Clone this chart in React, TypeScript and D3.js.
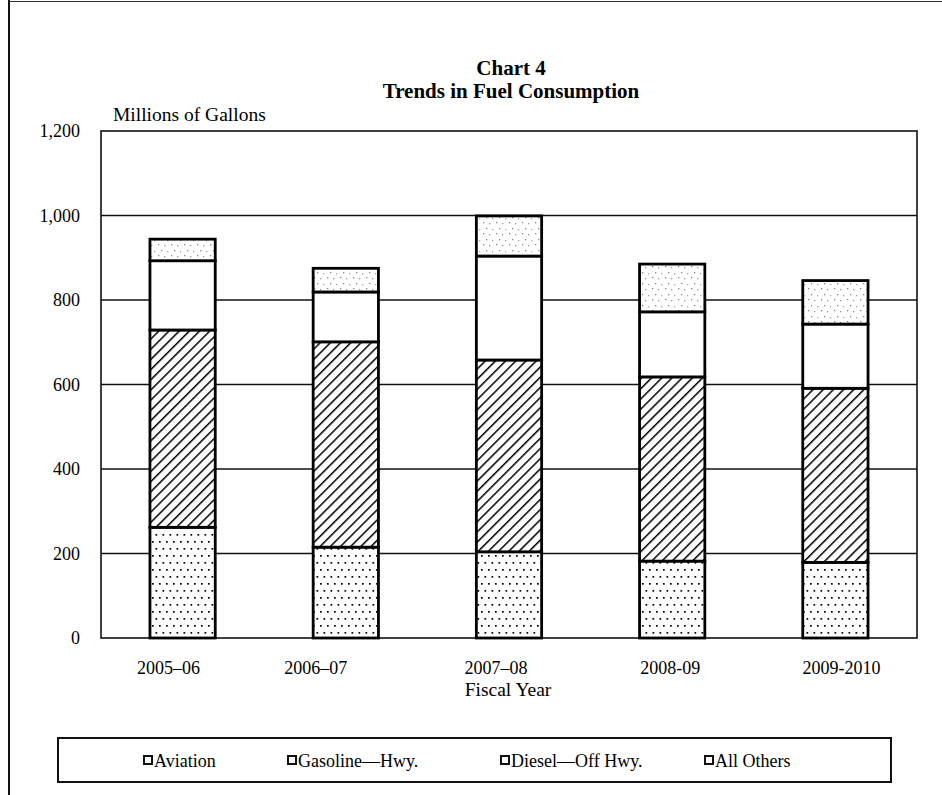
import React from "react";
import * as d3 from "d3";

// Fiscal years on the x axis
const years = ["2005–06", "2006–07", "2007–08", "2008-09", "2009-2010"];

// Millions of gallons per fuel type, stacked bottom to top in this order
const aviation = [262, 215, 204, 182, 179];
const gasolineHwy = [467, 486, 454, 436, 412];
const dieselOffHwy = [164, 118, 246, 154, 152];
const allOthers = [51, 56, 95, 113, 103];

const seriesNames = ["Aviation", "Gasoline—Hwy.", "Diesel—Off Hwy.", "All Others"];
const seriesValues = [aviation, gasolineHwy, dieselOffHwy, allOthers];
const yTicks = [0, 200, 400, 600, 800, 1000, 1200];

// Layout
const W = 942;
const H = 795;
const plot = { left: 101, right: 917, top: 131, bottom: 638 };
const FONT = "'Liberation Serif', 'Times New Roman', serif";
const fills = ["url(#dotsAviation)", "url(#hatchGasoline)", "#ffffff", "url(#dotsOthers)"];
// horizontal nudge of each year label relative to its bar centre
const labelNudge = [-14, -30, -13, -2, 6];
const legendX = [143, 287, 500, 704];

export default function App() {
  const x = d3
    .scaleBand<string>()
    .domain(years)
    .range([plot.left, plot.right])
    .paddingInner(0.6)
    .paddingOuter(0.3);
  const y = d3.scaleLinear().domain([0, 1200]).range([plot.bottom, plot.top]);

  const table = years.map((yr, i) => {
    const row: Record<string, number | string> = { year: yr };
    seriesNames.forEach((s, k) => (row[s] = seriesValues[k][i]));
    return row;
  });
  const stacked = d3.stack<any>().keys(seriesNames)(table as any);

  return (
    <svg
      width={W}
      height={H}
      style={{ position: "absolute", left: 0, top: 0, background: "#fff" }}
      fontFamily={FONT}
    >
      <defs>
        <pattern id="dotsAviation" width="7" height="14" patternUnits="userSpaceOnUse">
          <rect width="7" height="14" fill="#fff" />
          <rect x="1.5" y="2" width="1.7" height="1.7" fill="#000" />
          <rect x="5" y="9" width="1.7" height="1.7" fill="#000" />
        </pattern>
        <pattern
          id="hatchGasoline"
          width="7.2"
          height="7.2"
          patternUnits="userSpaceOnUse"
          patternTransform="rotate(45)"
        >
          <rect width="7.2" height="7.2" fill="#fff" />
          <line x1="0" y1="0" x2="0" y2="7.2" stroke="#000" strokeWidth="3" />
        </pattern>
        <pattern id="dotsOthers" width="13" height="11" patternUnits="userSpaceOnUse">
          <rect width="13" height="11" fill="#fff" />
          <rect x="2" y="2" width="1.3" height="1.3" fill="#888" />
          <rect x="8" y="3" width="1.3" height="1.3" fill="#999" />
          <rect x="5" y="8" width="1.3" height="1.3" fill="#888" />
          <rect x="11" y="9" width="1.3" height="1.3" fill="#aaa" />
        </pattern>
      </defs>

      {/* page frame */}
      <line x1={9} y1={0} x2={9} y2={H} stroke="#111" strokeWidth={2} />
      <line x1={9} y1={1.5} x2={W} y2={1.5} stroke="#333" strokeWidth={1} />

      {/* titles */}
      <text x={511} y={75} textAnchor="middle" fontSize={21} fontWeight="bold">
        Chart 4
      </text>
      <text x={511} y={98} textAnchor="middle" fontSize={21} fontWeight="bold">
        Trends in Fuel Consumption
      </text>
      <text x={113} y={121} fontSize={19.5}>
        Millions of Gallons
      </text>

      {/* gridlines and y labels */}
      {yTicks.map((t) => (
        <g key={t}>
          {t > 0 && t < 1200 && (
            <line
              x1={plot.left}
              x2={plot.right}
              y1={y(t)}
              y2={y(t)}
              stroke="#111"
              strokeWidth={1.3}
            />
          )}
          <text x={80} y={y(t) + 6} textAnchor="end" fontSize={18}>
            {d3.format(",")(t)}
          </text>
        </g>
      ))}

      {/* plot border */}
      <rect
        x={plot.left}
        y={plot.top}
        width={plot.right - plot.left}
        height={plot.bottom - plot.top}
        fill="none"
        stroke="#111"
        strokeWidth={1.6}
      />

      {/* stacked bars */}
      {stacked.map((layer, k) =>
        layer.map((d, i) => (
          <rect
            key={`${k}-${i}`}
            x={x(years[i])!}
            y={y(d[1])}
            width={x.bandwidth()}
            height={y(d[0]) - y(d[1])}
            fill={fills[k]}
            stroke="#000"
            strokeWidth={2.8}
          />
        ))
      )}

      {/* x labels */}
      {years.map((yr, i) => (
        <text
          key={yr}
          x={x(yr)! + x.bandwidth() / 2 + labelNudge[i]}
          y={674}
          textAnchor="middle"
          fontSize={18}
        >
          {yr}
        </text>
      ))}
      <text x={508} y={696} textAnchor="middle" fontSize={19.5}>
        Fiscal Year
      </text>

      {/* legend */}
      <rect x={58} y={738} width={833} height={44} fill="#fff" stroke="#111" strokeWidth={2} />
      {seriesNames.map((s, k) => (
        <g key={s}>
          <rect
            x={legendX[k] + 1}
            y={756}
            width={8}
            height={8}
            fill="#fff"
            stroke="#111"
            strokeWidth={2}
          />
          <text x={legendX[k] + 11} y={767} fontSize={18}>
            {s}
          </text>
        </g>
      ))}
    </svg>
  );
}
